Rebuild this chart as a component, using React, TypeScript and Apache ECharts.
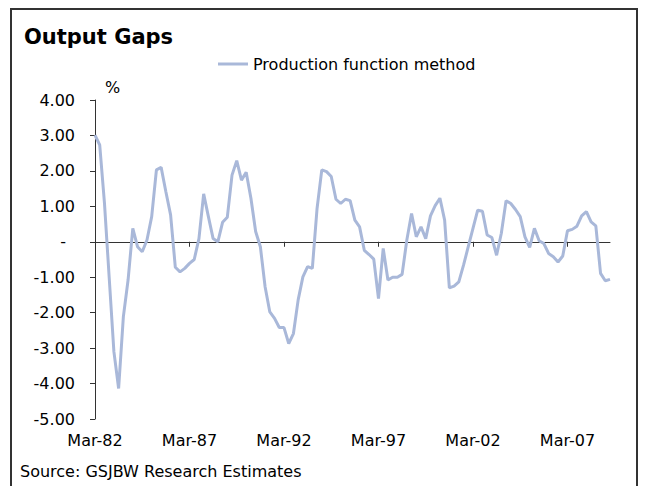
import React, { useEffect, useRef } from "react";
import * as echarts from "echarts";

const QUARTER_MONTHS = ["Mar", "Jun", "Sep", "Dec"];
const START_YEAR = 1982;
const SERIES_NAME = "Production function method";
const TITLE = "Output Gaps";
const SOURCE = "Source: GSJBW Research Estimates";

const outputGap = [
  3.01, 2.73, 1.1, -1.0, -3.1, -4.14, -2.12, -1.08, 0.38, -0.14,
  -0.28, 0.05, 0.71, 2.03, 2.1, 1.41, 0.76, -0.72, -0.85, -0.75,
  -0.61, -0.5, 0.09, 1.35, 0.71, 0.09, 0.0, 0.55, 0.69, 1.88,
  2.29, 1.74, 1.96, 1.23, 0.29, -0.14, -1.27, -1.98, -2.16, -2.42,
  -2.42, -2.87, -2.59, -1.64, -0.99, -0.7, -0.75, 0.94, 2.03, 1.98,
  1.84, 1.2, 1.08, 1.2, 1.16, 0.61, 0.42, -0.24, -0.36, -0.49,
  -1.6, -0.19, -1.08, -1.0, -1.0, -0.92, 0.05, 0.8, 0.14, 0.42,
  0.09, 0.73, 1.02, 1.23, 0.61, -1.3, -1.25, -1.13, -0.66, -0.14,
  0.38, 0.89, 0.86, 0.19, 0.12, -0.38, 0.24, 1.16, 1.08, 0.91,
  0.71, 0.14, -0.16, 0.38, 0.03, -0.05, -0.33, -0.42, -0.57, -0.4,
  0.31, 0.35, 0.44, 0.73, 0.85, 0.56, 0.45, -0.89, -1.1, -1.06,
];

const categories = outputGap.map((_, i) => {
  const y = START_YEAR + Math.floor(i / 4);
  return `${QUARTER_MONTHS[i % 4]}-${String(y % 100).padStart(2, "0")}`;
});

const Y_MIN = -5;
const Y_MAX = 4;
const Y_STEP = 1;
const LABEL_EVERY = 20;

const FONT = "DejaVu Sans";
const LINE_COLOR = "#a9b8d9";
const AXIS_COLOR = "#333333";

export default function App() {
  const ref = useRef<HTMLDivElement>(null);
  useEffect(() => {
    if (!ref.current) return;
    const chart = echarts.init(ref.current, undefined, { renderer: "svg" });
    const axisLineStyle = { color: AXIS_COLOR, width: 1 };
    const every = (i: number) => i % LABEL_EVERY === 0;
    chart.setOption({
      animation: false,
      backgroundColor: "#ffffff",
      title: [
        {
          text: TITLE,
          left: 19,
          top: 21,
          textStyle: { fontFamily: FONT, fontSize: 21, fontWeight: "bold", color: "#000" },
        },
        {
          text: SOURCE,
          left: 15,
          top: 458,
          textStyle: { fontFamily: FONT, fontSize: 16, fontWeight: "normal", color: "#000" },
        },
      ],
      legend: {
        left: 213,
        top: 51,
        itemWidth: 30,
        itemHeight: 3,
        icon: "rect",
        textStyle: { fontFamily: FONT, fontSize: 16, color: "#000" },
        data: [SERIES_NAME],
      },
      grid: { left: 95, right: 36, top: 100, bottom: 67 },
      xAxis: [
        {
          type: "category",
          data: categories,
          boundaryGap: false,
          position: "bottom",
          axisLine: { onZero: true, lineStyle: axisLineStyle },
          axisTick: { interval: every, length: 5, lineStyle: axisLineStyle },
          axisLabel: { show: false },
          splitLine: { show: false },
        },
        {
          type: "category",
          data: categories,
          boundaryGap: false,
          position: "bottom",
          axisLine: { show: false, onZero: false },
          axisTick: { show: false },
          axisLabel: {
            interval: every,
            margin: 13,
            fontFamily: FONT,
            fontSize: 16,
            color: "#000",
          },
          splitLine: { show: false },
        },
      ],
      yAxis: {
        type: "value",
        min: Y_MIN,
        max: Y_MAX,
        interval: Y_STEP,
        name: "%",
        nameLocation: "end",
        nameGap: 5,
        nameTextStyle: { fontFamily: FONT, fontSize: 16, color: "#000", align: "left", padding: [0, 0, 0, 10] },
        axisLine: { show: true, lineStyle: axisLineStyle },
        axisTick: { show: true, length: 5, lineStyle: axisLineStyle },
        axisLabel: {
          margin: 20,
          fontFamily: FONT,
          fontSize: 16,
          color: "#000",
          formatter: (v: number) => (v === 0 ? "{z|-}" : v.toFixed(2)),
          rich: { z: { fontFamily: FONT, fontSize: 16, color: "#000", padding: [0, 9, 0, 0] } },
        },
        splitLine: { show: false },
      },
      series: [
        {
          type: "line",
          name: SERIES_NAME,
          data: outputGap,
          xAxisIndex: 0,
          symbol: "none",
          lineStyle: { color: LINE_COLOR, width: 3 },
          itemStyle: { color: LINE_COLOR },
        },
      ],
      graphic: [
        {
          type: "rect",
          silent: true,
          shape: { x: 11, y: 9, width: 626, height: 530 },
          style: { fill: "none", stroke: AXIS_COLOR, lineWidth: 2 },
        },
      ],
    });
    return () => chart.dispose();
  }, []);
  return (
    <div
      ref={ref}
      style={{ position: "absolute", left: 0, top: 0, width: 646, height: 486 }}
    />
  );
}
